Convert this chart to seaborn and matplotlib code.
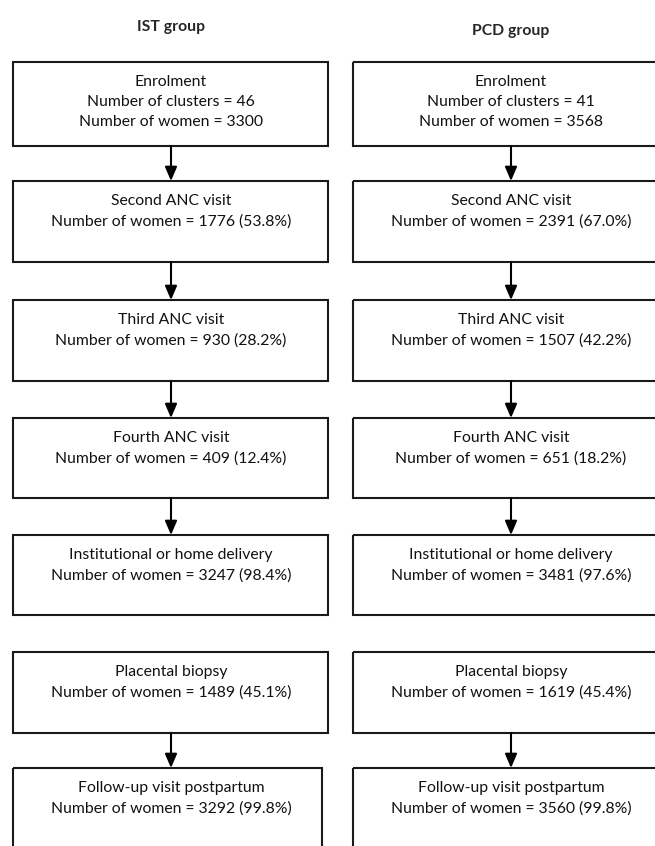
import matplotlib
matplotlib.use("Agg")
import matplotlib.pyplot as plt
import seaborn as sns
from matplotlib.patches import Rectangle

# Flow data
groups = ["IST group", "PCD group"]
stages = ["Enrolment", "Second ANC visit", "Third ANC visit", "Fourth ANC visit",
          "Institutional or home delivery", "Placental biopsy",
          "Follow-up visit postpartum"]
clusters = [46, 41]
ist_women = [3300, 1776, 930, 409, 3247, 1489, 3292]
ist_pct = [None, 53.8, 28.2, 12.4, 98.4, 45.1, 99.8]
pcd_women = [3568, 2391, 1507, 651, 3481, 1619, 3560]
pcd_pct = [None, 67.0, 42.2, 18.2, 97.6, 45.4, 99.8]
# which stage boxes are joined to the next by an arrow
linked = [True, True, True, True, False, True]

sns.set_theme(style="white")
plt.rcParams["font.family"] = ["Lato", "DejaVu Sans"]

fig = plt.figure(figsize=(6.55, 8.46), dpi=100)
ax = fig.add_axes([0, 0, 1, 1])
ax.set_xlim(0, 655)
ax.set_ylim(846, 0)
ax.axis("off")

# layout (pixels)
box_top = [62, 181, 300, 418, 535, 652, 768]
box_h = [84, 81, 81, 80, 80, 81, 100]
cols = [dict(x0=13, x1=328, cx=171, hy=27), dict(x0=353, x1=668, cx=511, hy=31)]
last_left_x1 = 322
fs = 11.3

for g, (col, women, pct) in enumerate(zip(cols, [ist_women, pcd_women], [ist_pct, pcd_pct])):
    ax.text(col["cx"], col["hy"], groups[g], ha="center", va="center",
            fontsize=fs, fontweight="bold")
    for i, stage in enumerate(stages):
        x0 = col["x0"]
        x1 = col["x1"]
        if g == 0 and i == len(stages) - 1:
            x1 = last_left_x1
        ax.add_patch(Rectangle((x0, box_top[i]), x1 - x0, box_h[i], fill=False,
                               edgecolor="#1a1a1a", lw=1.5, clip_on=False))
        if pct[i] is None:
            lines = [stage, f"Number of clusters = {clusters[g]}",
                     f"Number of women = {women[i]}"]
        else:
            lines = [stage, f"Number of women = {women[i]} ({pct[i]:.1f}%)"]
        ax.text(col["cx"], box_top[i] + 13, "\n".join(lines), ha="center", va="top",
                fontsize=fs, linespacing=1.55, color="#111111")
        if i < len(stages) - 1 and linked[i]:
            ax.annotate("", xy=(col["cx"], box_top[i + 1]),
                        xytext=(col["cx"], box_top[i] + box_h[i]),
                        arrowprops=dict(arrowstyle="-|>,head_length=0.7,head_width=0.3",
                                        color="black", lw=1.5, shrinkA=0, shrinkB=0))

fig.savefig("out.png", dpi=100)
